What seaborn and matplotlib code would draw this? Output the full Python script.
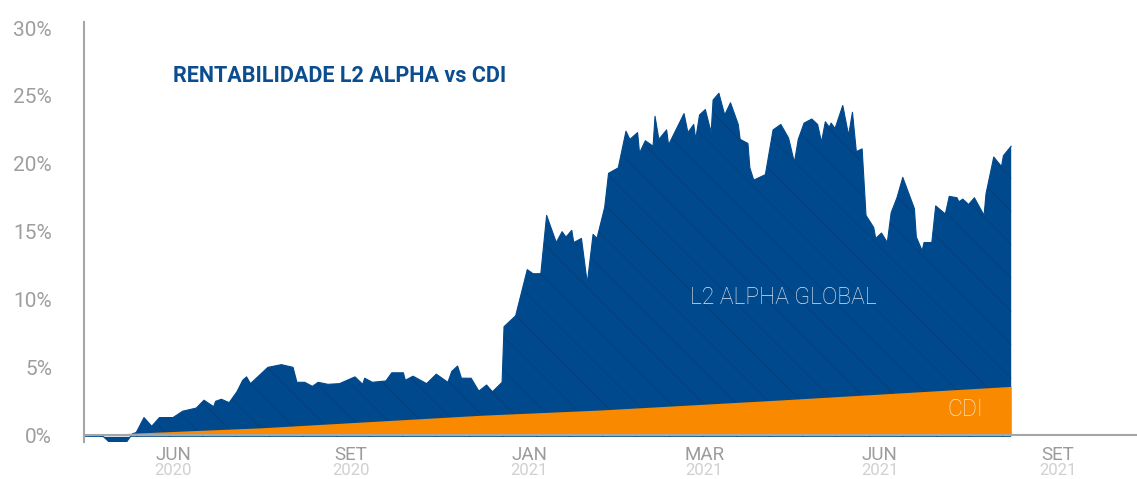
import pandas as pd
import matplotlib
matplotlib.use("Agg")
import matplotlib.pyplot as plt
import seaborn as sns

# Rentabilidade acumulada (%) - dias corridos desde o inicio
inicio = "2020-05-01"
dias = [0, 10, 13, 22, 25, 27, 31, 35, 39, 46, 51, 58, 62, 67, 68, 71, 75, 79, 82, 84,
        86, 95, 102, 108, 110, 114, 118, 121, 126, 132, 140, 144, 145, 149, 156, 159, 165, 166, 170, 177,
        182, 188, 190, 193, 195, 200, 204, 208, 211, 216, 217, 223, 229, 232, 236, 239, 244, 247, 249, 252,
        253, 257, 260, 263, 265, 269, 271, 276, 280, 282, 286, 287, 290, 294, 295, 297, 301, 302, 310, 312,
        315, 316, 318, 321, 324, 325, 328, 331, 334, 338, 339, 343, 344, 346, 352, 356, 360, 364, 367, 369,
        372, 376, 379, 381, 383, 385, 386, 388, 392, 395, 397, 399, 402, 404, 408, 409, 412, 415, 417, 420,
        423, 429, 430, 433, 434, 438, 440, 445, 447, 451, 452, 454, 457, 460, 465, 466, 470, 474, 475, 479]
l2_alpha = [0.0, -0.1, -0.5, -0.5, 0.1, 0.2, 1.3, 0.66, 1.3, 1.3, 1.77, 2.0, 2.58, 2.1, 2.5, 2.65, 2.4, 3.2, 4.05, 4.3,
            3.8, 5.0, 5.2, 5.0, 3.9, 3.9, 3.6, 3.9, 3.75, 3.8, 4.3, 3.75, 4.2, 3.9, 4.0, 4.6, 4.6, 4.05, 4.35, 3.8,
            4.5, 3.9, 4.7, 5.1, 4.2, 4.2, 3.25, 3.7, 3.2, 3.9, 8.0, 8.8, 12.2, 11.9, 11.9, 16.2, 14.2, 15.0, 14.6, 15.1,
            14.2, 14.5, 11.2, 14.8, 14.5, 16.8, 19.3, 19.7, 22.4, 21.8, 22.3, 20.8, 21.7, 21.3, 23.5, 21.8, 22.5, 21.4, 23.7, 22.3,
            22.9, 21.8, 23.6, 24.0, 22.3, 24.7, 25.2, 23.6, 24.5, 22.9, 21.8, 21.5, 19.7, 18.8, 19.2, 22.5, 22.9, 21.9, 20.1, 21.8,
            23.0, 23.3, 22.9, 21.6, 23.1, 22.7, 23.0, 22.6, 24.3, 22.1, 23.8, 20.9, 21.1, 16.2, 15.3, 14.5, 14.9, 14.2, 16.4, 17.5,
            19.0, 16.7, 14.6, 13.6, 14.2, 14.2, 16.9, 16.3, 17.6, 17.5, 17.2, 17.4, 17.0, 17.5, 16.2, 17.8, 20.5, 19.8, 20.6, 21.3]
cdi_dias = [0, 92, 205, 267, 360, 479]
cdi = [0.0, 0.55, 1.47, 1.86, 2.6, 3.6]

marcos = ["2020-05-01", "2020-08-01", "2020-11-01", "2021-02-01", "2021-05-01", "2021-08-01"]
meses = ["JUN", "SET", "JAN", "MAR", "JUN", "SET"]
anos = ["2020", "2020", "2021", "2021", "2021", "2021"]
y_ticks = [0, 5, 10, 15, 20, 25, 30]

azul = "#00498C"
laranja = "#F98A00"
cinza = "#A6A6A6"

t0 = pd.to_datetime(inicio)
df = pd.DataFrame({"data": t0 + pd.to_timedelta(dias, unit="D"), "l2": l2_alpha})
df_cdi = pd.DataFrame({"data": t0 + pd.to_timedelta(cdi_dias, unit="D"), "cdi": cdi})

sns.set_style("white")
plt.rcParams["font.family"] = ["Roboto", "DejaVu Sans"]
plt.rcParams["hatch.linewidth"] = 0.6

fig = plt.figure(figsize=(11.37, 4.79), dpi=100)
ax = fig.add_axes([84 / 1137, 1 - 442 / 479, 1 - 84 / 1137, 420 / 479])

ax.fill_between(df["data"], -0.12, df["l2"], facecolor=azul, edgecolor="#083E77",
                hatch="\\", linewidth=0, zorder=1)
sns.lineplot(data=df, x="data", y="l2", color=azul, linewidth=0.8, ax=ax, zorder=1)
ax.fill_between(df_cdi["data"], 0, df_cdi["cdi"], color=laranja, linewidth=0, zorder=2)

ax.set_xlim(t0, t0 + pd.Timedelta(days=544))
ax.set_ylim(-0.5, 30.45)

# eixos
sns.despine(ax=ax)
for s in ["left", "bottom"]:
    ax.spines[s].set_color(cinza)
    ax.spines[s].set_linewidth(1.5)
    ax.spines[s].set_zorder(3)
ax.spines["bottom"].set_position(("data", 0))

ax.set_yticks(y_ticks)
ax.set_yticklabels([f"{v}%" for v in y_ticks])
ax.tick_params(axis="y", length=9.5, width=1.1, color=cinza, labelcolor="#9E9E9E",
               labelsize=15, pad=13.5, direction="out")

datas_marcos = pd.to_datetime(marcos)
ax.set_xticks(datas_marcos)
ax.set_xticklabels([])
ax.tick_params(axis="x", length=4.5, width=1.1, color=cinza, direction="out")
ax.set_xlabel("")
ax.set_ylabel("")

meios = [datas_marcos[i] + (datas_marcos[i + 1] - datas_marcos[i]) / 2 for i in range(len(datas_marcos) - 1)]
meios.append(datas_marcos[-1] + pd.Timedelta(days=46))
trans = ax.get_xaxis_transform()
for m, mes, ano in zip(meios, meses, anos):
    ax.text(m, -0.03, mes, transform=trans, ha="center", va="center",
            fontsize=13.5, color="#9B9B9B", clip_on=False)
    ax.text(m, -0.069, ano, transform=trans, ha="center", va="center",
            fontsize=12, color="#D0D0D0", clip_on=False)

fig.text(173 / 1137, 1 - 76 / 479, "RENTABILIDADE L2 ALPHA vs CDI", ha="left", va="center",
         fontsize=15.5, fontweight="bold", color="#0B4D8F")
fig.text(783 / 1137, 1 - 298 / 479, "L2 ALPHA GLOBAL", ha="center", va="center",
         fontsize=16.5, fontweight="light", color="#DCE4EE")
fig.text(965 / 1137, 1 - 410 / 479, "CDI", ha="center", va="center",
         fontsize=16.5, fontweight="light", color="#FDE6CC")

fig.savefig("out.png", dpi=100)
